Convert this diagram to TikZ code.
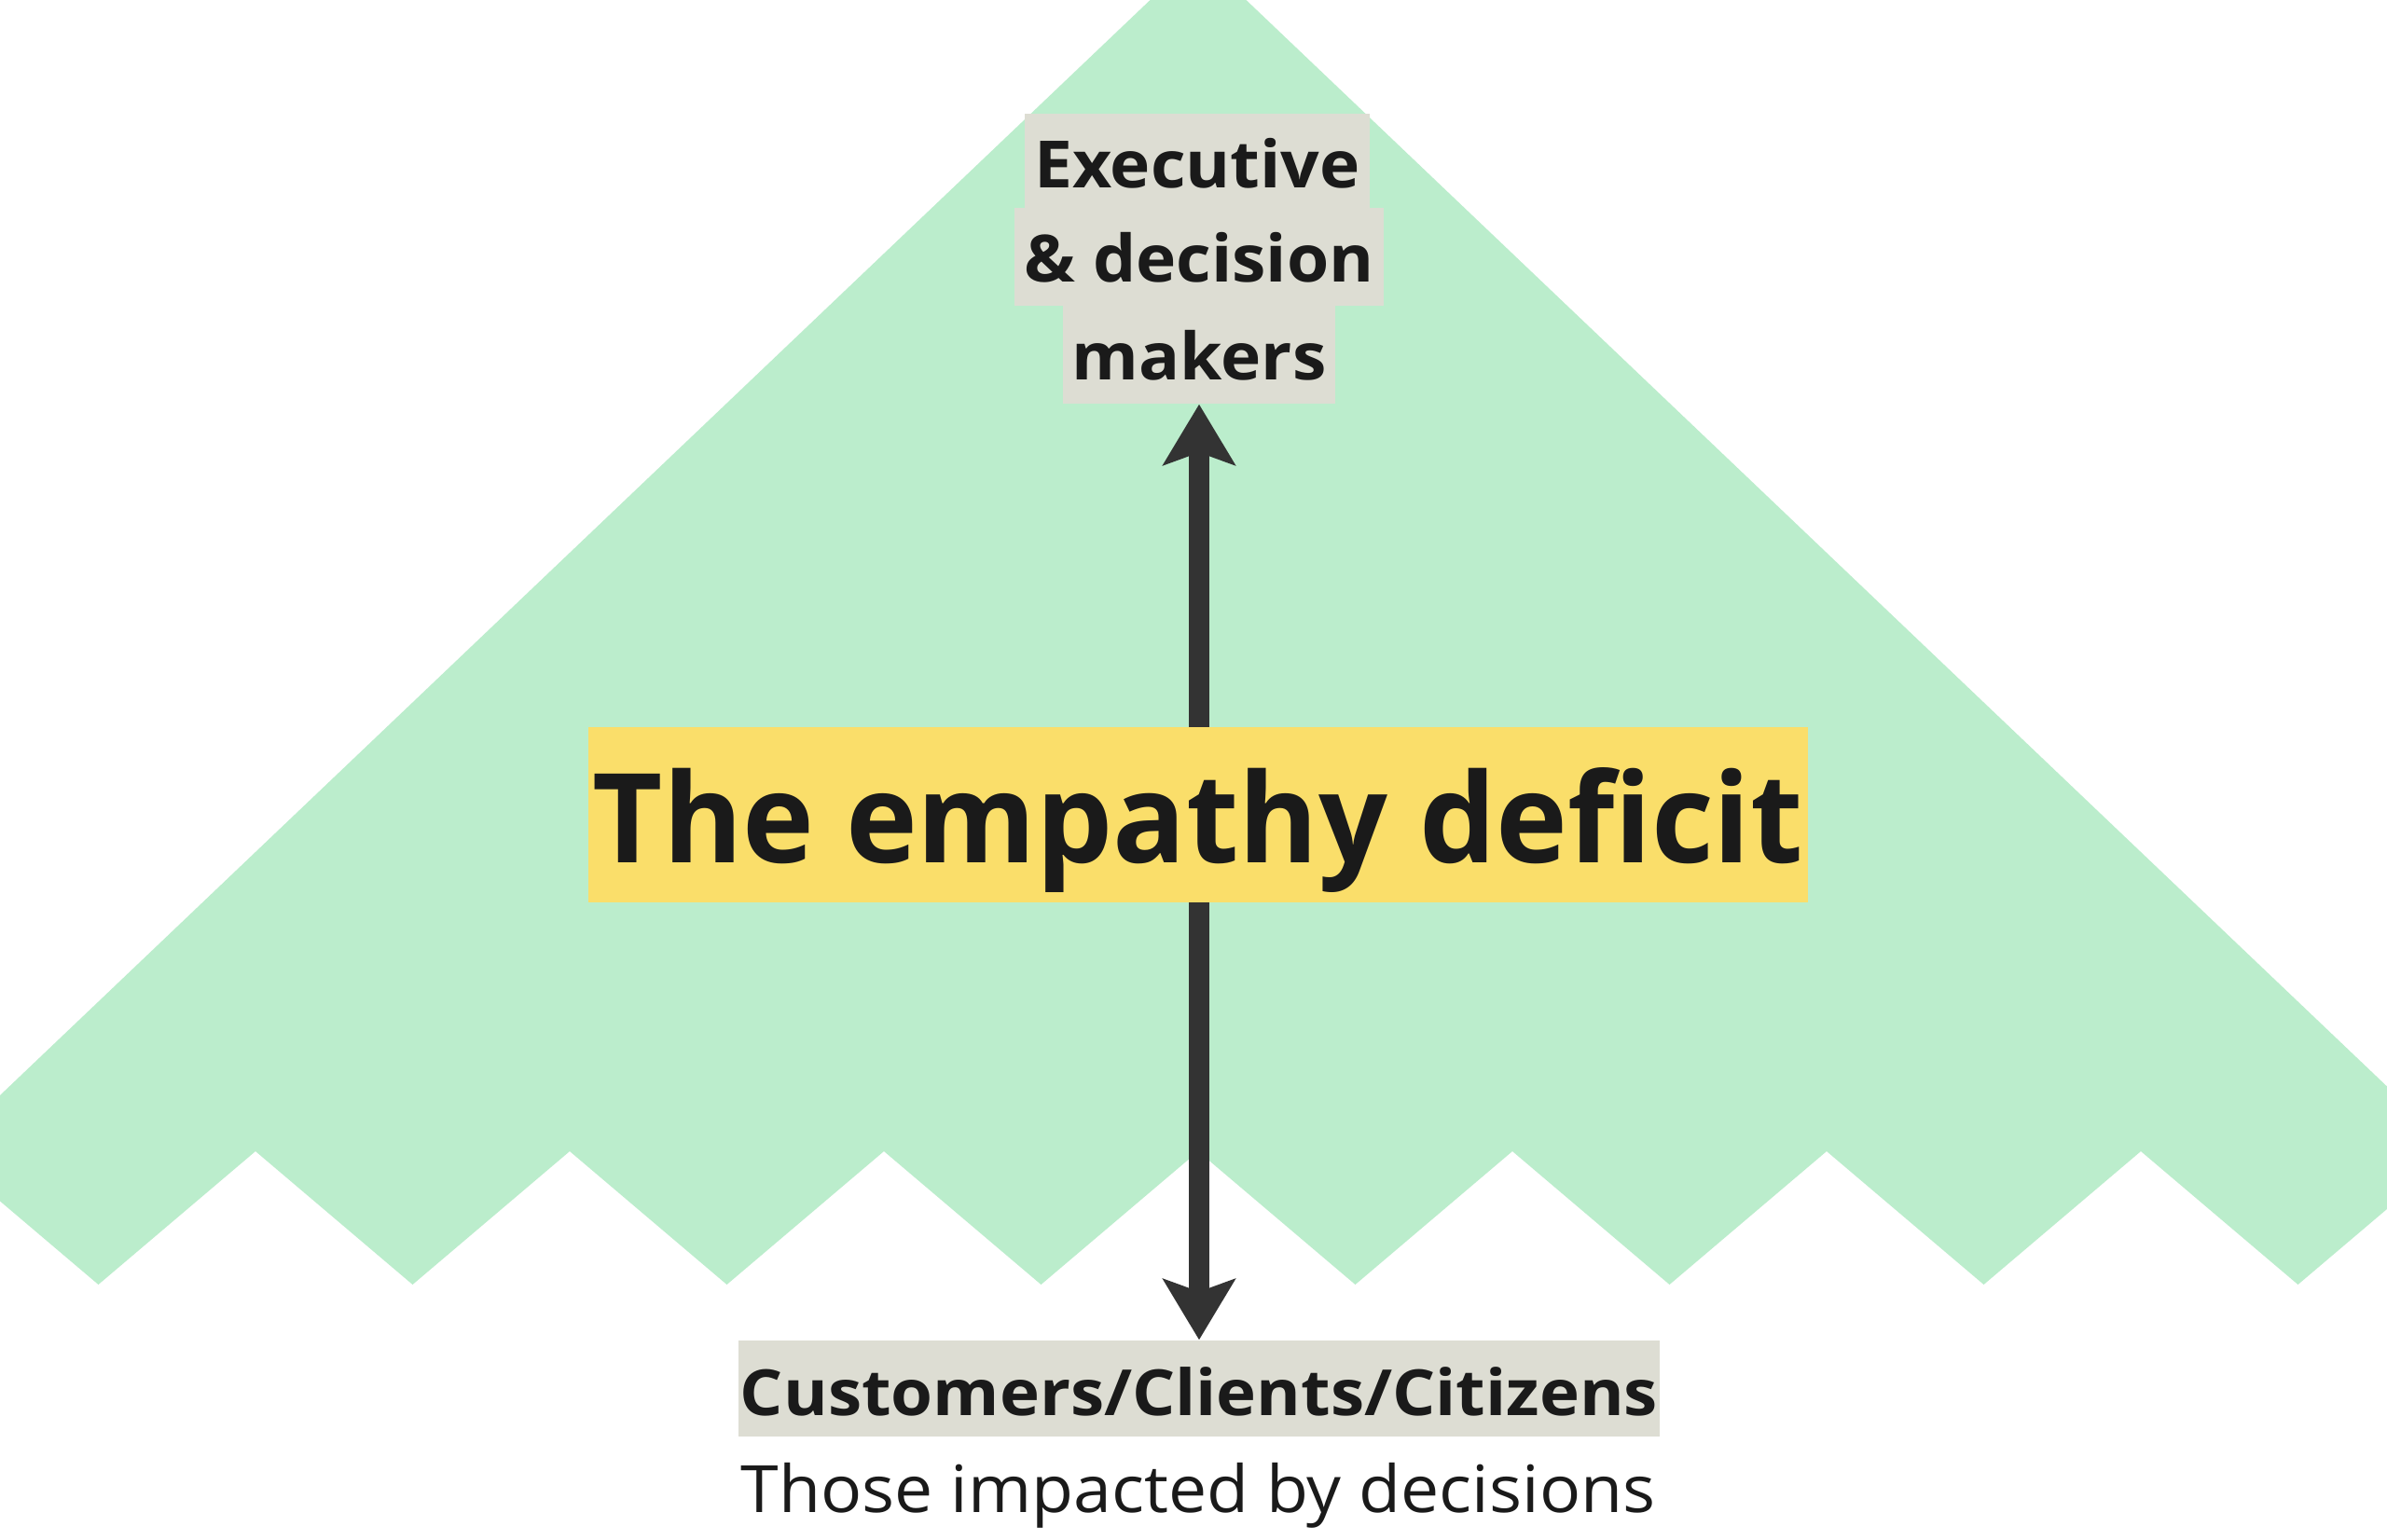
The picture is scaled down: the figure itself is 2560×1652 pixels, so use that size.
\documentclass[tikz,border=0pt]{standalone}
\usepackage{graphicx}
\usepackage{fontspec}
\setmainfont{Open Sans}
\usetikzlibrary{arrows.meta}
\definecolor{mint}{RGB}{187,237,204}
\definecolor{hlgray}{RGB}{221,221,211}
\definecolor{hlyellow}{RGB}{250,222,106}
\definecolor{arrowgray}{RGB}{51,51,51}
\definecolor{ink}{RGB}{26,26,26}
\begin{document}
\begin{tikzpicture}[x=0.3pt,y=-0.3pt,
  hl/.style={fill=hlgray, text=ink, anchor=base, inner xsep=3pt, inner ysep=0pt,
    font=\fontsize{21}{25}\selectfont\bfseries, text height=24pt, text depth=7.5pt},
  title/.style={fill=hlyellow, text=ink, anchor=base, inner xsep=0pt, inner ysep=0pt,
    minimum width=392.4pt, font=\fontsize{40}{48}\selectfont\bfseries,
    text height=43.5pt, text depth=12.9pt},
  sub/.style={text=ink, anchor=base, inner sep=0pt, font=\fontsize{21}{25}\selectfont},
  arr/.style={draw=arrowgray, line width=6.6pt,
    {Stealth[length=19.5pt,width=23pt,inset=4pt]}-{Stealth[length=19.5pt,width=23pt,inset=4pt]}}]
\useasboundingbox (0,0) rectangle (2560,1652);
\fill[white] (0,0) rectangle (2560,1652);
\begin{scope}
\clip (0,0) rectangle (2560,1652);
\fill[mint] (1285,-49) -- (2633,1235)
  \foreach \k in {0,...,7} {-- ({2464.5-337*\k},1378) -- ({2296-337*\k},1235)} -- cycle;
\end{scope}
% top label
\node[hl] (e1) at (1284,202) {\scalebox{1.045}[1]{Executive}};
\node[hl] (e2) at (1286,303) {\scalebox{1.045}[1]{\& decision}};
\node[hl] (e3) at (1286,408) {\scalebox{1.045}[1]{makers}};
% bottom label
\node[hl, inner xsep=0.6pt, font=\fontsize{20.5}{25}\selectfont\bfseries, text height=24pt, text depth=6.9pt] (cust) at (1286,1518) {\scalebox{1.064}[1]{Customers/Clients/Citizens}};
\node[sub] (those) at (1285,1622) {\scalebox{1.048}[1]{Those impacted by decisions}};
% arrow
\draw[arr] (e3.south) -- (cust.north);
% title
\node[title] (t) at (1285,925) {\scalebox{0.975}[1]{The empathy deficit}};
\end{tikzpicture}
\end{document}
